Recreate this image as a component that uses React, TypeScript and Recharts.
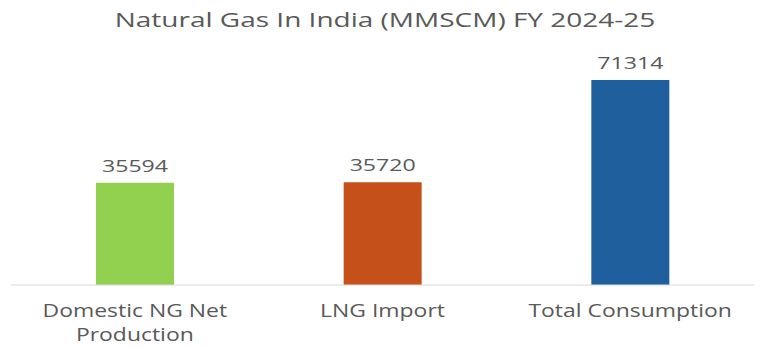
import React from 'react';
import { BarChart, Bar, XAxis, YAxis, Cell, LabelList } from 'recharts';

const categories = ['Domestic NG Net\nProduction', 'LNG Import', 'Total Consumption'];
const values = [35594, 35720, 71314];
const colors = ['#92d050', '#c5501a', '#1f5f9e'];

const data = categories.map((name, i) => ({ name, value: values[i] }));

const textColor = '#595959';
const font = '"Open Sans", sans-serif';

// the source text is a bit stretched sideways, so squash/stretch with scaleX
const Stretched = ({ x, y, size, sx, children }: any) => (
  <text transform={`translate(${x},${y}) scale(${sx},1)`} textAnchor="middle" fill={textColor}
    fontSize={size} fontFamily={font}>
    {children}
  </text>
);

const CategoryTick = (props: any) => {
  const { x, y, payload } = props;
  const lines = String(payload.value).split('\n');
  return (
    <g>
      {lines.map((line, i) => (
        <Stretched key={i} x={x} y={y + 24 + i * 24} size={18.5} sx={1.24}>{line}</Stretched>
      ))}
    </g>
  );
};

const ValueLabel = (props: any) => {
  const { x, y, width, value } = props;
  return <Stretched x={x + width / 2} y={y - 11} size={17} sx={1.36}>{value}</Stretched>;
};

export default function App() {
  return (
    <div style={{ position: 'absolute', left: 0, top: 0, width: 768, height: 348, background: '#fff' }}>
      <svg width={768} height={40} style={{ position: 'absolute', left: 0, top: 0 }}>
        <Stretched x={385} y={27} size={20} sx={1.4}>Natural Gas In India (MMSCM) FY 2024-25</Stretched>
      </svg>
      <BarChart width={768} height={348} data={data} margin={{ top: 55, right: 14, left: 11, bottom: 0 }}
        barSize={78}>
        <XAxis dataKey="name" height={63} tickLine={false} axisLine={{ stroke: '#d9d9d9' }}
          tick={<CategoryTick />} interval={0} />
        <YAxis hide domain={[0, 80000]} />
        <Bar dataKey="value" isAnimationActive={false}>
          {data.map((d, i) => <Cell key={d.name} fill={colors[i]} />)}
          <LabelList dataKey="value" content={<ValueLabel />} />
        </Bar>
      </BarChart>
    </div>
  );
}
